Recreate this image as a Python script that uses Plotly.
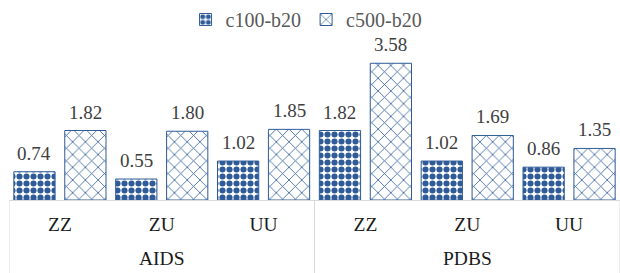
import plotly.graph_objects as go

groups = ["AIDS", "AIDS", "AIDS", "PDBS", "PDBS", "PDBS"]
cats = ["ZZ", "ZU", "UU", "ZZ", "ZU", "UU"]
c100_b20 = [0.74, 0.55, 1.02, 1.82, 1.02, 0.86]
c500_b20 = [1.82, 1.80, 1.85, 3.58, 1.69, 1.35]
series_names = ["c100-b20", "c500-b20"]

BLUE = "#2F5C98"
FONT = "Liberation Serif"
GRID = "#D9D9D9"

xs = list(range(len(cats)))

fig = go.Figure()
fig.add_trace(go.Bar(
    x=xs, y=c100_b20, name=series_names[0],
    marker=dict(color="white", line=dict(color=BLUE, width=1),
                pattern=dict(shape=".", fgcolor=BLUE, bgcolor="white", fgopacity=1,
                             size=7, solidity=0.6, fillmode="replace")),
))
fig.add_trace(go.Bar(
    x=xs, y=c500_b20, name=series_names[1],
    marker=dict(color="white", line=dict(color=BLUE, width=1),
                pattern=dict(shape="x", fgcolor=BLUE, bgcolor="white", fgopacity=1,
                             size=9, solidity=0.17, fillmode="replace")),
))

annotations = []
for k, vals in enumerate([c100_b20, c500_b20]):
    off = -0.25 if k == 0 else 0.25
    for i, v in enumerate(vals):
        annotations.append(dict(
            x=i + off, y=v, xref="x", yref="y", text=f"{v:.2f}",
            showarrow=False, yanchor="bottom", yshift=6,
            font=dict(family=FONT, size=19, color="#404040"),
        ))

# group labels and dividers derived from the group list
shapes = []
bounds = [0]
for i in range(1, len(groups)):
    if groups[i] != groups[i - 1]:
        bounds.append(i)
bounds.append(len(groups))
for j in range(len(bounds) - 1):
    a, b = bounds[j], bounds[j + 1]
    annotations.append(dict(
        x=(a + b - 1) / 2, y=0, xref="x", yref="paper", text=groups[a],
        showarrow=False, yanchor="middle", yshift=-58,
        font=dict(family=FONT, size=19.5, color="#1a1a1a"),
    ))
for bnd in bounds:
    shapes.append(dict(type="line", xref="x", yref="paper",
                       x0=bnd - 0.5, x1=bnd - 0.5, y0=0, y1=-73 / 160,
                       line=dict(color=GRID, width=1)))

fig.update_layout(
    width=620, height=273,
    margin=dict(l=9, r=0, t=40, b=73, autoexpand=False),
    paper_bgcolor="white", plot_bgcolor="white",
    barmode="group", bargap=0.0, bargroupgap=0.19,
    font=dict(family=FONT, size=19, color="#1a1a1a"),
    showlegend=True,
    legend=dict(orientation="h", x=0.487, xanchor="center", y=1.0, yanchor="top",
                yref="container", font=dict(family=FONT, size=20, color="#595959"),
                itemwidth=30, traceorder="normal", bgcolor="rgba(0,0,0,0)"),
    annotations=annotations,
    shapes=shapes,
    xaxis=dict(range=[-0.5, len(cats) - 0.5], tickmode="array", tickvals=xs, ticktext=cats,
               showline=True, linecolor=GRID, linewidth=1, ticks="",
               ticklabelstandoff=7, automargin=False,
               tickfont=dict(family=FONT, size=19.5, color="#1a1a1a"),
               showgrid=False, zeroline=False),
    yaxis=dict(visible=False, range=[0, 4.19], showgrid=False, zeroline=False,
               automargin=False),
)

fig.write_html("out.html", config={"displayModeBar": False},
               post_script="document.body.style.margin='0';")
